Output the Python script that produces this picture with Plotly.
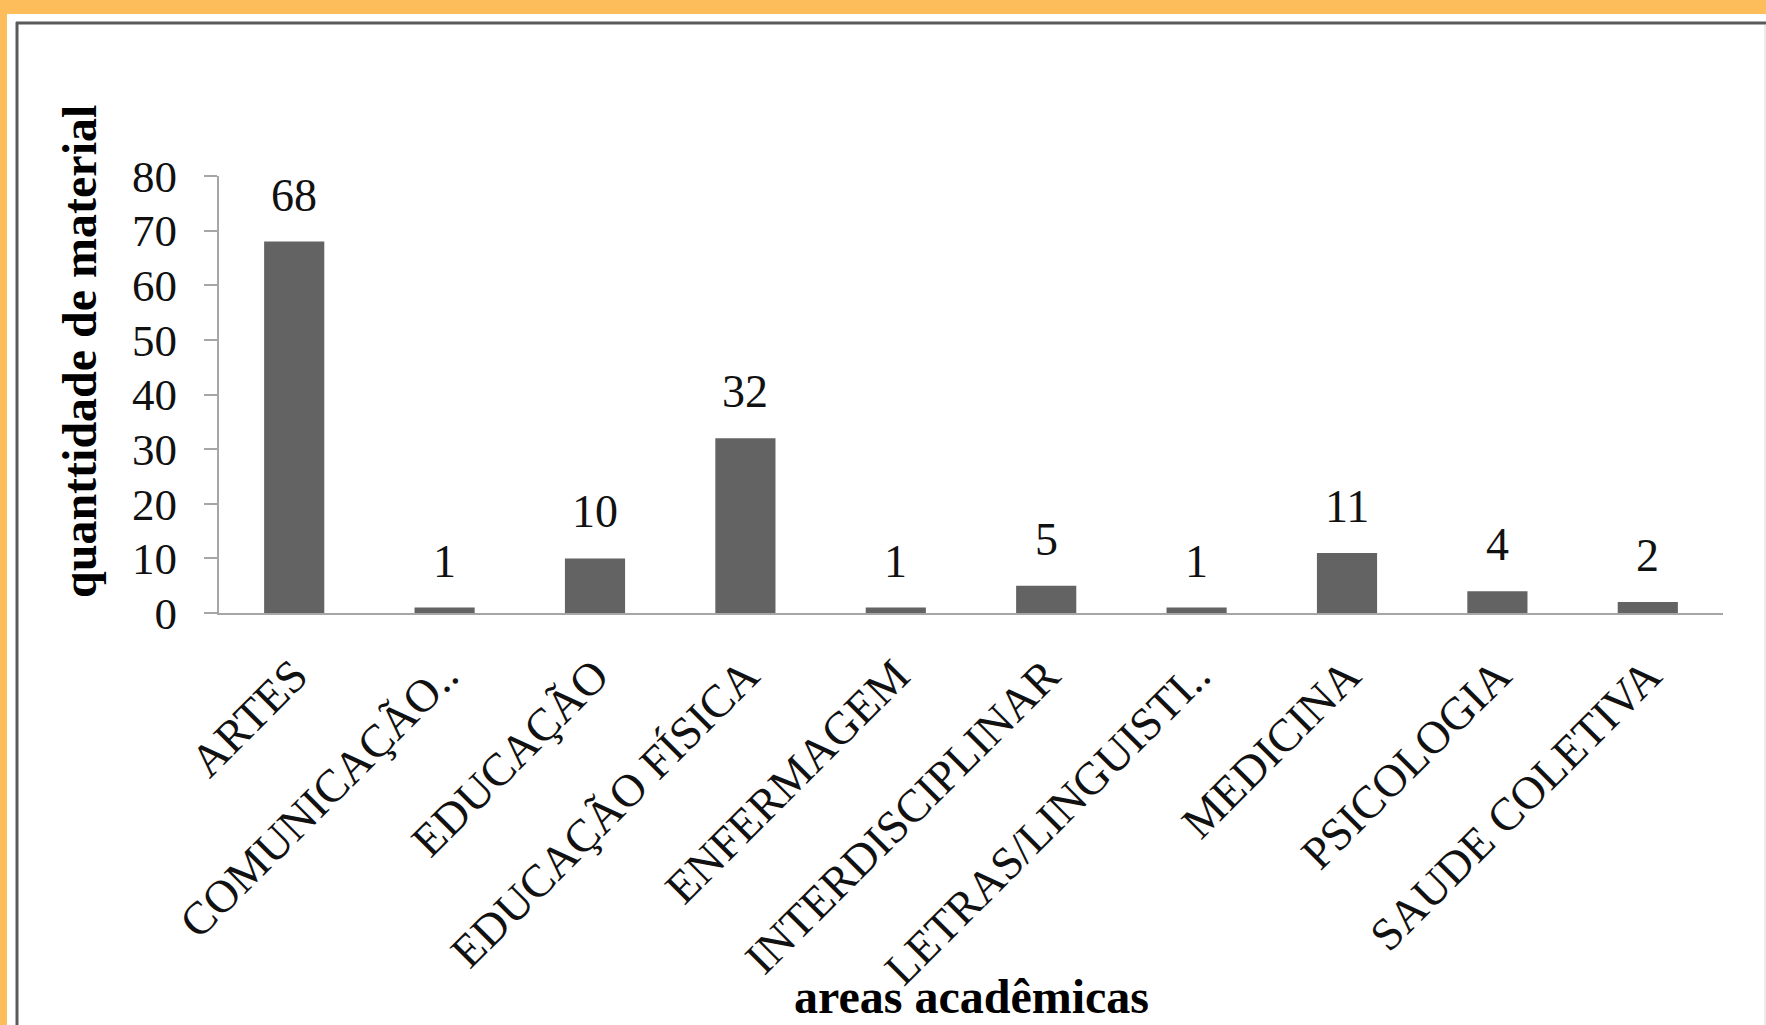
import plotly.graph_objects as go

categories = ["ARTES", "COMUNICAÇÃO..", "EDUCAÇÃO", "EDUCAÇÃO FÍSICA", "ENFERMAGEM",
              "INTERDISCIPLINAR", "LETRAS/LINGUISTI..", "MEDICINA", "PSICOLOGIA", "SAUDE COLETIVA"]
values = [68, 1, 10, 32, 1, 5, 1, 11, 4, 2]
y_ticks = [0, 10, 20, 30, 40, 50, 60, 70, 80]
y_title = "quanttidade de material"
x_title = "areas acadêmicas"

W, H = 1766, 1025
L, R, T, B = 219, 43, 176, 412
PW, PH = W - L - R, H - T - B

def px(x):
    return (x - L) / PW

def py(y):
    return (H - B - y) / PH

FONT = "Liberation Serif, Times New Roman, serif"

fig = go.Figure()
fig.add_trace(go.Bar(
    x=categories, y=values,
    marker=dict(color="#636363", line=dict(width=0)),
    hoverinfo="x+y",
))

annotations = []
for c, v in zip(categories, values):
    annotations.append(dict(
        x=c, y=v, xref="x", yref="y", text=str(v), showarrow=False,
        yanchor="bottom", yshift=19,
        font=dict(family=FONT, size=46, color="#111111"),
    ))

annotations.append(dict(
    x=px(971), y=py(997), xref="paper", yref="paper", text="<b>" + x_title + "</b>",
    showarrow=False, xanchor="center", yanchor="middle",
    font=dict(family=FONT, size=48, color="#000000"),
))
annotations.append(dict(
    x=px(79), y=py(352), xref="paper", yref="paper", text="<b>" + y_title + "</b>",
    showarrow=False, xanchor="center", yanchor="middle", textangle=-90,
    font=dict(family=FONT, size=48, color="#000000"),
))

shapes = [
    dict(type="rect", xref="paper", yref="paper", x0=px(7), x1=px(W + 5), y0=py(14), y1=py(H + 5),
         fillcolor="#FFFFFF", line=dict(width=0), layer="below"),
    dict(type="line", xref="paper", yref="paper", x0=px(16), x1=px(W + 5), y0=py(23), y1=py(23),
         line=dict(color="#5a5a5a", width=3), layer="below"),
    dict(type="line", xref="paper", yref="paper", x0=px(17), x1=px(17), y0=py(22), y1=py(H + 5),
         line=dict(color="#5a5a5a", width=3), layer="below"),
    dict(type="line", xref="paper", yref="paper", x0=px(W - 1), x1=px(W - 1), y0=py(25), y1=py(H + 5),
         line=dict(color="#d8d8d8", width=1), layer="below"),
]

fig.update_layout(
    width=W, height=H,
    margin=dict(l=L, r=R, t=T, b=B, autoexpand=False),
    paper_bgcolor="#FEBD5B",
    plot_bgcolor="#FFFFFF",
    bargap=0.6,
    showlegend=False,
    annotations=annotations,
    shapes=shapes,
    font=dict(family=FONT, color="#000000"),
)
fig.update_xaxes(
    type="category", showline=True, linecolor="#A6A6A6", linewidth=2,
    showgrid=False, ticks="", tickangle=-45,
    tickfont=dict(family=FONT, size=46, color="#111111"),
    ticklabelstandoff=15, automargin=False,
)
fig.update_yaxes(
    range=[0, 80], tickvals=y_ticks, showline=True, linecolor="#A6A6A6", linewidth=2,
    showgrid=False, zeroline=False, ticks="outside", ticklen=13, tickcolor="#A6A6A6", tickwidth=2,
    tickfont=dict(family=FONT, size=45, color="#111111"),
    ticklabelstandoff=18, automargin=False,
)

fig.write_html(
    "out.html",
    config={"displayModeBar": False},
    post_script="document.body.style.margin='0';document.body.style.overflow='hidden';",
)
